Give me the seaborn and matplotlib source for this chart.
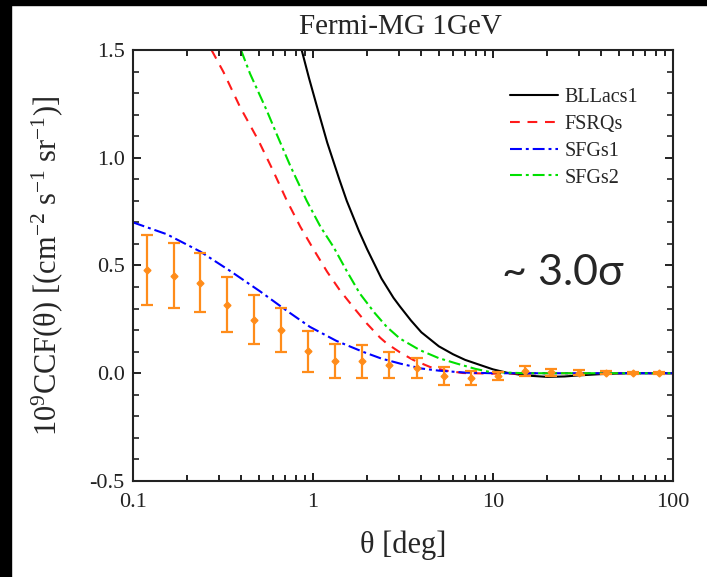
import numpy as np
import pandas as pd
import matplotlib
matplotlib.use("Agg")
import matplotlib.pyplot as plt
from matplotlib.patches import Rectangle
from matplotlib.ticker import FixedLocator, MultipleLocator, NullFormatter
import seaborn as sns

# Measured cross-correlation (angular bins, value, 1-sigma error)
theta_obs = [0.119, 0.168, 0.237, 0.335, 0.473, 0.668, 0.944, 1.33, 1.88, 2.66,
             3.76, 5.31, 7.50, 10.6, 15.0, 21.1, 29.9, 42.2, 59.6, 84.1]
ccf_obs = [0.478, 0.452, 0.420, 0.318, 0.249, 0.200, 0.103, 0.057, 0.055, 0.040,
           0.026, -0.013, -0.022, -0.013, 0.010, 0.005, 0.002, 0.003, 0.001, 0.002]
ccf_err = [0.162, 0.150, 0.137, 0.128, 0.112, 0.103, 0.095, 0.080, 0.078, 0.060,
           0.047, 0.043, 0.034, 0.020, 0.022, 0.016, 0.012, 0.007, 0.006, 0.005]

# Model predictions
theta_bll = [0.865, 0.95, 1.05, 1.2, 1.4, 1.54, 1.8, 2.0, 2.4, 2.8, 3.04, 3.5, 4.0,
             5.0, 6.0, 7.0, 8.5, 10, 12, 15, 20, 25, 30, 40, 55, 100]
ccf_bll = [1.50, 1.37, 1.24, 1.07, 0.90, 0.80, 0.66, 0.575, 0.44, 0.35, 0.31, 0.245,
           0.19, 0.125, 0.088, 0.062, 0.038, 0.018, 0.002, -0.010, -0.017, -0.015,
           -0.010, -0.004, 0.0, 0.0]

theta_fsrq = [0.273, 0.318, 0.393, 0.497, 0.60, 0.714, 0.85, 1.0, 1.2, 1.41, 1.7,
              1.99, 2.36, 2.57, 3.04, 3.6, 4.47, 5.5, 6.8, 10, 20, 100]
ccf_fsrq = [1.50, 1.398, 1.236, 1.081, 0.94, 0.803, 0.68, 0.579, 0.47, 0.385, 0.30,
            0.231, 0.165, 0.138, 0.097, 0.062, 0.029, 0.012, 0.001, -0.002, 0.0, 0.0]

theta_sfg1 = [0.1, 0.154, 0.236, 0.346, 0.508, 0.715, 0.962, 1.35, 1.90, 2.4, 3.04,
              4.0, 5.0, 7.0, 10, 20, 100]
ccf_sfg1 = [0.70, 0.645, 0.565, 0.475, 0.380, 0.290, 0.215, 0.150, 0.099, 0.068,
            0.045, 0.022, 0.012, 0.003, 0.0, 0.0, 0.0]

theta_sfg2 = [0.398, 0.447, 0.553, 0.628, 0.75, 0.923, 1.1, 1.30, 1.55, 1.82, 2.2,
              2.57, 3.04, 3.93, 5.0, 6.28, 8.0, 9.6, 15, 100]
ccf_sfg2 = [1.50, 1.39, 1.22, 1.11, 0.96, 0.80, 0.68, 0.586, 0.47, 0.37, 0.28,
            0.215, 0.161, 0.107, 0.07, 0.045, 0.02, 0.006, 0.0, 0.0]

# Axis tick positions and labels
x_major = [0.1, 1, 10, 100]
x_major_labels = ["0.1", "1", "10", "100"]
x_minor = [m * d for d in (0.1, 1, 10) for m in range(2, 10)]
y_major = [-0.5, 0.0, 0.5, 1.0, 1.5]
y_major_labels = ["-0.5", "0.0", "0.5", "1.0", "1.5"]

sns.set_theme(style="ticks")
plt.rcParams.update({
    "font.family": ["Liberation Serif", "DejaVu Serif"],
    "mathtext.fontset": "custom",
    "mathtext.rm": "Liberation Serif",
    "mathtext.it": "Liberation Serif:italic",
    "axes.edgecolor": "#222222",
    "axes.linewidth": 1.5,
    "xtick.color": "#222222",
    "ytick.color": "#222222",
})

fig = plt.figure(figsize=(7.07, 5.77), dpi=100)
fig.patch.set_facecolor("white")
# black frame strips along the left and top edges
fig.add_artist(Rectangle((0, 0), 11 / 707, 1, transform=fig.transFigure,
                         color="black", zorder=-1))
fig.add_artist(Rectangle((0, 1 - 5 / 577), 1, 5 / 577, transform=fig.transFigure,
                         color="black", zorder=-1))

ax = fig.add_axes([0.1881, 0.1664, 0.7638, 0.7470])

lw = 1.5
sns.lineplot(x=theta_bll, y=ccf_bll, ax=ax, color="black", lw=lw,
             label="BLLacs1", sort=False, estimator=None)
sns.lineplot(x=theta_fsrq, y=ccf_fsrq, ax=ax, color="#ff1a1a", lw=lw,
             linestyle=(0, (4.7, 3.7)), label="FSRQs", sort=False, estimator=None)
sns.lineplot(x=theta_sfg1, y=ccf_sfg1, ax=ax, color="#0000ff", lw=lw,
             linestyle=(0, (5.7, 1.9, 1.4, 1.9)), label="SFGs1", sort=False,
             estimator=None)
sns.lineplot(x=theta_sfg2, y=ccf_sfg2, ax=ax, color="#00e000", lw=lw,
             linestyle=(0, (5.7, 1.9, 1.4, 1.9)), label="SFGs2", sort=False,
             estimator=None)

ax.errorbar(theta_obs, ccf_obs, yerr=ccf_err, fmt="D", ms=3.5, color="#ff8c1a",
            ecolor="#ff8c1a", elinewidth=1.6, capsize=4, capthick=1.6, zorder=5)

ax.set_xscale("log")
ax.set_xlim(0.1, 100)
ax.set_ylim(-0.5, 1.5)
ax.set_xticks(x_major)
ax.set_xticklabels(x_major_labels)
ax.xaxis.set_minor_locator(FixedLocator(x_minor))
ax.xaxis.set_minor_formatter(NullFormatter())
ax.set_yticks(y_major)
ax.set_yticklabels(y_major_labels)
ax.yaxis.set_minor_locator(MultipleLocator(0.1))

ax.set_xlabel("θ [deg]", fontsize=22)
ax.xaxis.set_label_coords(0.5, -0.115)
ax.set_ylabel(r"$10^9$CCF(θ) [(cm$^{-2}$ s$^{-1}$ sr$^{-1}$)]", fontsize=22)
ax.yaxis.set_label_coords(-0.125, 0.5)

fig.text(0.566, 0.953, "Fermi-MG 1GeV", ha="center", va="center", fontsize=21)

leg = ax.legend(loc="upper left", bbox_to_anchor=(0.683, 0.93), frameon=False,
                fontsize=14.5, handlelength=2.4, handletextpad=0.3,
                labelspacing=0.38, borderaxespad=0)

ax.text(0.683, 0.483, "~ 3.0σ", transform=ax.transAxes, fontsize=31,
        family=["Lato", "DejaVu Sans"], ha="left", va="center")

# inward ticks on all four sides
ax.tick_params(which="both", direction="in", top=True, bottom=True,
               left=True, right=True, labelsize=16, pad=6, color="#222222")
ax.tick_params(axis="x", which="major", pad=9)
ax.tick_params(which="major", length=6, width=1.4)
ax.tick_params(which="minor", length=4, width=1.2)

# inward tick marks along the bottom and top edges of the log axis
xtr = ax.get_xaxis_transform()
maj_len = 8.3 / 431
min_len = 5.6 / 431
for y0, sgn in ((0.0, 1), (1.0, -1)):
    ax.vlines(x_major, y0, y0 + sgn * maj_len, transform=xtr, colors="#222222",
              linewidth=1.4, zorder=6, clip_on=False)
    ax.vlines(x_minor, y0, y0 + sgn * min_len, transform=xtr, colors="#222222",
              linewidth=1.2, zorder=6, clip_on=False)

fig.savefig("out.png", dpi=100)
